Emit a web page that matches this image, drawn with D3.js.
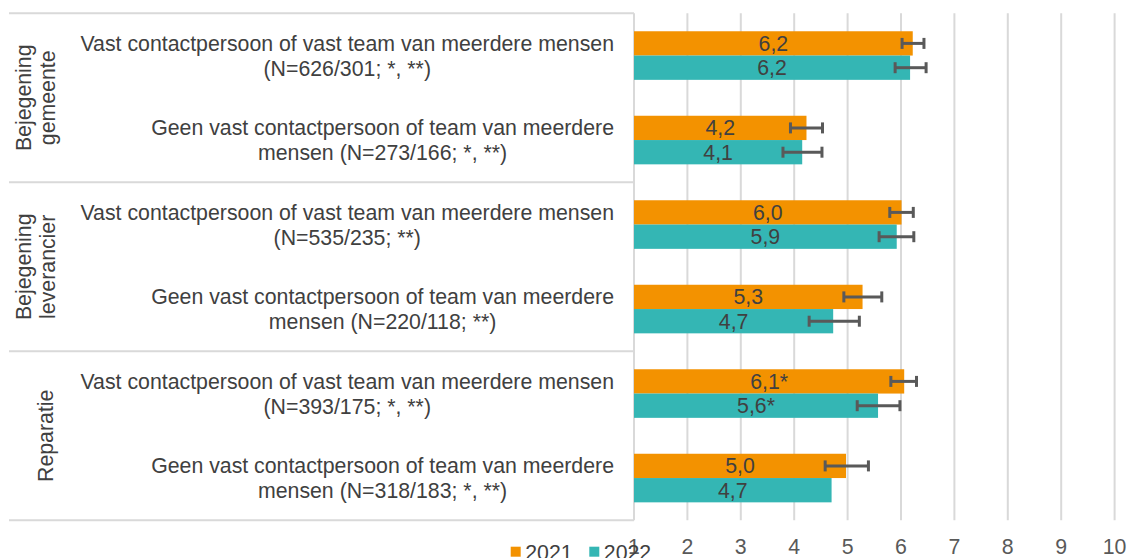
<!DOCTYPE html>
<html>
<head>
<meta charset="utf-8">
<script src="https://cdn.jsdelivr.net/npm/d3@7"></script>
<style>
  html, body { margin: 0; padding: 0; background: #fff; }
  svg { display: block; font-family: "Liberation Sans", Arial, sans-serif; }
</style>
</head>
<body>
<svg id="chart" width="1129" height="558"></svg>
<script>
// ---- data ----
const groups = [["Bejegening", "gemeente"], ["Bejegening", "leverancier"], ["Reparatie"]];
const categoryLines = [
  ["Vast contactpersoon of vast team van meerdere mensen", "(N=626/301; *, **)"],
  ["Geen vast contactpersoon of team van meerdere", "mensen (N=273/166; *, **)"],
  ["Vast contactpersoon of vast team van meerdere mensen", "(N=535/235; **)"],
  ["Geen vast contactpersoon of team van meerdere", "mensen (N=220/118; **)"],
  ["Vast contactpersoon of vast team van meerdere mensen", "(N=393/175; *, **)"],
  ["Geen vast contactpersoon of team van meerdere", "mensen (N=318/183; *, **)"]
];
const seriesNames = ["2021", "2022"];
const values2021 = [6.22, 4.23, 6.01, 5.28, 6.06, 4.97];
const values2022 = [6.17, 4.15, 5.92, 4.73, 5.57, 4.70];
const labels2021 = ["6,2", "4,2", "6,0", "5,3", "6,1*", "5,0"];
const labels2022 = ["6,2", "4,1", "5,9", "4,7", "5,6*", "4,7"];
const errLow2021 = [6.02, 3.93, 5.79, 4.93, 5.81, 4.58];
const errHigh2021 = [6.43, 4.53, 6.23, 5.64, 6.29, 5.39];
const errLow2022 = [5.89, 3.79, 5.59, 4.28, 5.18, null];
const errHigh2022 = [6.47, 4.52, 6.24, 5.22, 5.98, null];
const tickValues = [1, 2, 3, 4, 5, 6, 7, 8, 9, 10];
const tickLabels = ["1", "2", "3", "4", "5", "6", "7", "8", "9", "10"];

const colors = ["#F39200", "#34B6B4"];
const gridColor = "#D9D9D9";
const textColor = "#404040";
const fontSize = 21.3;

const svg = d3.select("#chart");

const plotTop = 13.3, plotBottom = 520.3;
const x = d3.scaleLinear().domain([1, 10]).range([634, 1114.6]);
const y = d3.scaleBand().domain(d3.range(categoryLines.length))
  .range([plotTop, plotBottom]).paddingInner(0.425).paddingOuter(0.2125);
const ySub = d3.scaleBand().domain([0, 1]).range([0, y.bandwidth()]);

// gridlines
svg.append("g").selectAll("line").data(tickValues.slice(1)).join("line")
  .attr("x1", d => x(d)).attr("x2", d => x(d))
  .attr("y1", plotTop).attr("y2", plotBottom)
  .attr("stroke", gridColor).attr("stroke-width", 2);

// table lines on the left
const groupSizes = [2, 2, 2];
const sepY = [plotTop];
let acc = 0;
groupSizes.forEach(n => { acc += n; sepY.push(plotTop + acc * y.step()); });
svg.append("g").selectAll("line").data(sepY).join("line")
  .attr("x1", 9).attr("x2", 634)
  .attr("y1", d => d).attr("y2", d => d)
  .attr("stroke", gridColor).attr("stroke-width", 2);
// axis line
svg.append("line").attr("x1", x(1)).attr("x2", x(1))
  .attr("y1", plotTop).attr("y2", plotBottom)
  .attr("stroke", gridColor).attr("stroke-width", 2);

// bars
const series = [
  { vals: values2021, labels: labels2021, lo: errLow2021, hi: errHigh2021 },
  { vals: values2022, labels: labels2022, lo: errLow2022, hi: errHigh2022 }
];
series.forEach((s, si) => {
  const g = svg.append("g");
  const rows = d3.range(s.vals.length);
  g.selectAll("rect").data(rows).join("rect")
    .attr("x", x(1))
    .attr("y", i => y(i) + ySub(si))
    .attr("width", i => x(s.vals[i]) - x(1))
    .attr("height", ySub.bandwidth())
    .attr("fill", colors[si]);
  g.selectAll("text").data(rows).join("text")
    .attr("x", i => (x(1) + x(s.vals[i])) / 2)
    .attr("y", i => y(i) + ySub(si) + ySub.bandwidth() / 2 + 7.5)
    .attr("text-anchor", "middle")
    .attr("font-size", fontSize)
    .attr("fill", textColor)
    .text(i => s.labels[i]);
  // error bars
  const eb = rows.filter(i => s.lo[i] != null);
  const ec = "#595959";
  const eg = g.append("g").attr("stroke", ec).attr("stroke-width", 3);
  eb.forEach(i => {
    const cy = y(i) + ySub(si) + ySub.bandwidth() / 2;
    eg.append("line").attr("x1", x(s.lo[i])).attr("x2", x(s.hi[i])).attr("y1", cy).attr("y2", cy);
    eg.append("line").attr("x1", x(s.lo[i])).attr("x2", x(s.lo[i])).attr("y1", cy - 5.5).attr("y2", cy + 5.5);
    eg.append("line").attr("x1", x(s.hi[i])).attr("x2", x(s.hi[i])).attr("y1", cy - 5.5).attr("y2", cy + 5.5);
  });
});

// category labels (block right-aligned, lines centered within block)
const labelRight = 614;
const lineH = 25;
categoryLines.forEach((lines, i) => {
  const g = svg.append("g");
  const cy = y(i) + y.bandwidth() / 2;
  const texts = lines.map((t, li) => g.append("text")
    .attr("font-size", fontSize).attr("fill", textColor)
    .attr("text-anchor", "middle")
    .attr("y", cy + (li - (lines.length - 1) / 2) * lineH + 7.5)
    .text(t));
  const maxW = d3.max(texts, t => t.node().getComputedTextLength());
  texts.forEach(t => t.attr("x", labelRight - maxW / 2));
});

// group labels (rotated)
let start = 0;
groups.forEach((lines, gi) => {
  const n = groupSizes[gi];
  const cy = plotTop + (start + n / 2) * y.step();
  start += n;
  const baselines = lines.length === 2 ? [31, 55] : [53];
  lines.forEach((t, li) => {
    svg.append("text")
      .attr("transform", `translate(${baselines[li]},${cy}) rotate(-90)`)
      .attr("text-anchor", "middle")
      .attr("font-size", fontSize).attr("fill", textColor)
      .text(t);
  });
});

// x tick labels
svg.append("g").selectAll("text").data(tickValues).join("text")
  .attr("x", d => x(d)).attr("y", 553.5)
  .attr("text-anchor", "middle")
  .attr("font-size", fontSize).attr("fill", "#595959")
  .text((d, i) => tickLabels[i]);

// legend
const legendX = [510.7, 589.3];
seriesNames.forEach((n, i) => {
  svg.append("rect").attr("x", legendX[i]).attr("y", 546.7).attr("width", 10).attr("height", 10)
    .attr("fill", colors[i]);
  svg.append("text").attr("x", legendX[i] + 14.5).attr("y", 559.5)
    .attr("font-size", fontSize).attr("fill", textColor).text(n);
});
</script>
</body>
</html>
